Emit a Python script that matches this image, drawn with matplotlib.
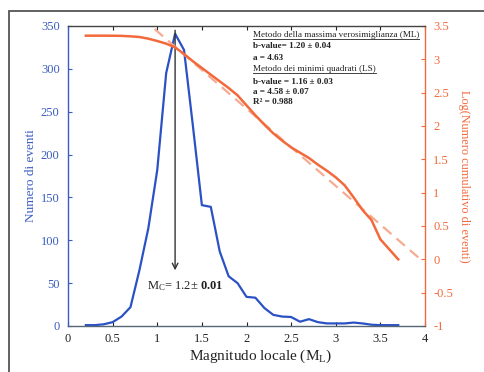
import matplotlib
matplotlib.use("Agg")
import matplotlib.pyplot as plt
from matplotlib.lines import Line2D
from matplotlib.patches import Rectangle

plt.rcParams['font.family'] = ['Liberation Serif', 'DejaVu Serif']
plt.rcParams['mathtext.fontset'] = 'custom'
plt.rcParams['mathtext.rm'] = 'Liberation Serif'
plt.rcParams['mathtext.bf'] = 'Liberation Serif:bold'
plt.rcParams['mathtext.it'] = 'Liberation Serif:italic'

# ---- data ----
magnitudes = [0.2, 0.3, 0.4, 0.5, 0.6, 0.7, 0.8, 0.9, 1.0, 1.1, 1.2, 1.3, 1.4, 1.5,
              1.6, 1.7, 1.8, 1.9, 2.0, 2.1, 2.2, 2.3, 2.4, 2.5, 2.6, 2.7, 2.8, 2.9,
              3.0, 3.1, 3.2, 3.3, 3.4, 3.5, 3.6, 3.7]
event_counts = [1, 1, 2, 4.5, 11, 22, 65, 114, 182, 295, 341, 322, 233, 141,
                139, 87, 58, 50, 34, 33, 21, 13, 11, 10.5, 5, 8, 4.5, 3,
                3, 3, 4, 3, 1.5, 1, 1, 1]
log_cumulative = [3.355, 3.355, 3.355, 3.354, 3.352, 3.345, 3.335, 3.31, 3.275, 3.235,
                  3.18, 3.08, 2.97, 2.87, 2.77, 2.67, 2.57, 2.46, 2.31, 2.16,
                  2.02, 1.89, 1.78, 1.68, 1.60, 1.52, 1.42, 1.33, 1.23, 1.11,
                  0.93, 0.74, 0.59, 0.30, 0.15, 0.0]
ls_fit_x = [0.97, 3.95]
ls_fit_y = [3.455, 0.0]

mc_value = 1.2
mc_arrow_top = 345
mc_arrow_bottom = 65

xticks = [0, 0.5, 1, 1.5, 2, 2.5, 3, 3.5, 4]
left_ticks = [0, 50, 100, 150, 200, 250, 300, 350]
right_ticks = [-1, -0.5, 0, 0.5, 1, 1.5, 2, 2.5, 3, 3.5]

BLUE = '#2b52c4'
BLUE_TXT = '#3a5cc0'
ORANGE = '#f26a3c'
ORANGE_LIGHT = '#f6ab90'
DARK = '#444444'

W, H = 484, 372
fig = plt.figure(figsize=(W / 100, H / 100), dpi=100)
fig.patch.set_facecolor('white')

# outer frame (partially cut off at right/bottom)
fig.patches.append(Rectangle((9 / W, -0.1), 1.2, (H - 11) / H + 0.1,
                             transform=fig.transFigure, fill=False,
                             edgecolor='#555555', linewidth=1.3))

ax1 = fig.add_axes([68 / W, 1 - 326 / H, (425 - 68) / W, (326 - 26) / H])
ax2 = ax1.twinx()

ax1.plot(magnitudes, event_counts, color=BLUE, linewidth=1.6, zorder=3)
ax2.plot(ls_fit_x, ls_fit_y, color=ORANGE_LIGHT, linewidth=1.6, linestyle=(0, (5, 3)), zorder=2)
ax2.plot(magnitudes, log_cumulative, color=ORANGE, linewidth=1.8, zorder=3)

ax1.set_xlim(0, 4)
ax1.set_ylim(0, 350)
ax2.set_ylim(-1, 3.5)
ax1.set_xticks(xticks)
ax1.set_xticklabels([('%g' % t) for t in xticks])
ax1.set_yticks(left_ticks)
ax2.set_yticks(right_ticks)
ax2.set_yticklabels([('%g' % t) for t in right_ticks])

ax1.tick_params(axis='x', direction='in', length=3, labelsize=9, colors='#222222',
                top=True, pad=5)
ax1.tick_params(axis='y', direction='in', length=3, labelsize=9, colors=BLUE_TXT, pad=6)
ax2.tick_params(axis='y', direction='in', length=3, labelsize=9, colors=ORANGE, pad=6)

for sp in ['top', 'bottom', 'left', 'right']:
    ax1.spines[sp].set_visible(False)
ax2.spines['left'].set_color(BLUE_TXT)
ax2.spines['bottom'].set_color('#556677')
ax2.spines['top'].set_color(DARK)
ax2.spines['right'].set_color(ORANGE)
for sp in ax2.spines.values():
    sp.set_linewidth(1.0)

ax1.set_xlabel(r'Magnitudo locale (M$_\mathrm{L}$)', fontsize=11, color='#222222')
ax1.xaxis.set_label_coords(0.54, -0.073)
ax1.set_ylabel('Numero di eventi', fontsize=9.5, color=BLUE_TXT)
ax1.yaxis.set_label_coords(-0.088, 0.5)
ax2.set_ylabel('Log(Numero cumulativo di eventi)', fontsize=8.8, color=ORANGE,
               rotation=270)
ax2.yaxis.set_label_coords(1.125, 0.5)

# Mc arrow
ax1.annotate('', xy=(mc_value, mc_arrow_bottom), xytext=(mc_value, mc_arrow_top),
             arrowprops=dict(arrowstyle='->', color='#333333', lw=1.0,
                             shrinkA=0, shrinkB=0, mutation_scale=10), zorder=4)
ax1.text(0.88, 47, r'M$_\mathrm{C}$= 1.2$\pm$ $\mathbf{0.01}$', fontsize=9,
         color='#222222', va='center', ha='left', zorder=5)

# stats text block
lines = [
    ('Metodo della massima verosimiglianza (ML)', 'normal', True),
    ('b-value= 1.20 \u00b1 0.04', 'bold', False),
    ('a = 4.63', 'bold', False),
    ('Metodo dei minimi quadrati (LS)', 'normal', True),
    ('b-value = 1.16 \u00b1 0.03', 'bold', False),
    ('a = 4.58 \u00b1 0.07', 'bold', False),
    ('R\u00b2 = 0.988', 'bold', False),
]
ys = [35, 46.5, 57.5, 69, 81.5, 92, 102]
texts = []
for (s, w, ul), yp in zip(lines, ys):
    t = fig.text(253 / W, 1 - yp / H, s, fontsize=6.6, fontweight=w, color='#222222',
                 va='center', ha='left', zorder=6)
    texts.append((t, ul))

fig.canvas.draw()
r = fig.canvas.get_renderer()
for t, ul in texts:
    if ul:
        bb = t.get_window_extent(renderer=r)
        yline = bb.y0 + 0.5
        fig.add_artist(Line2D([bb.x0 / W, bb.x1 / W], [yline / H, yline / H],
                              transform=fig.transFigure, color='#222222', linewidth=0.6))

fig.savefig('out.png', dpi=100, facecolor='white')
